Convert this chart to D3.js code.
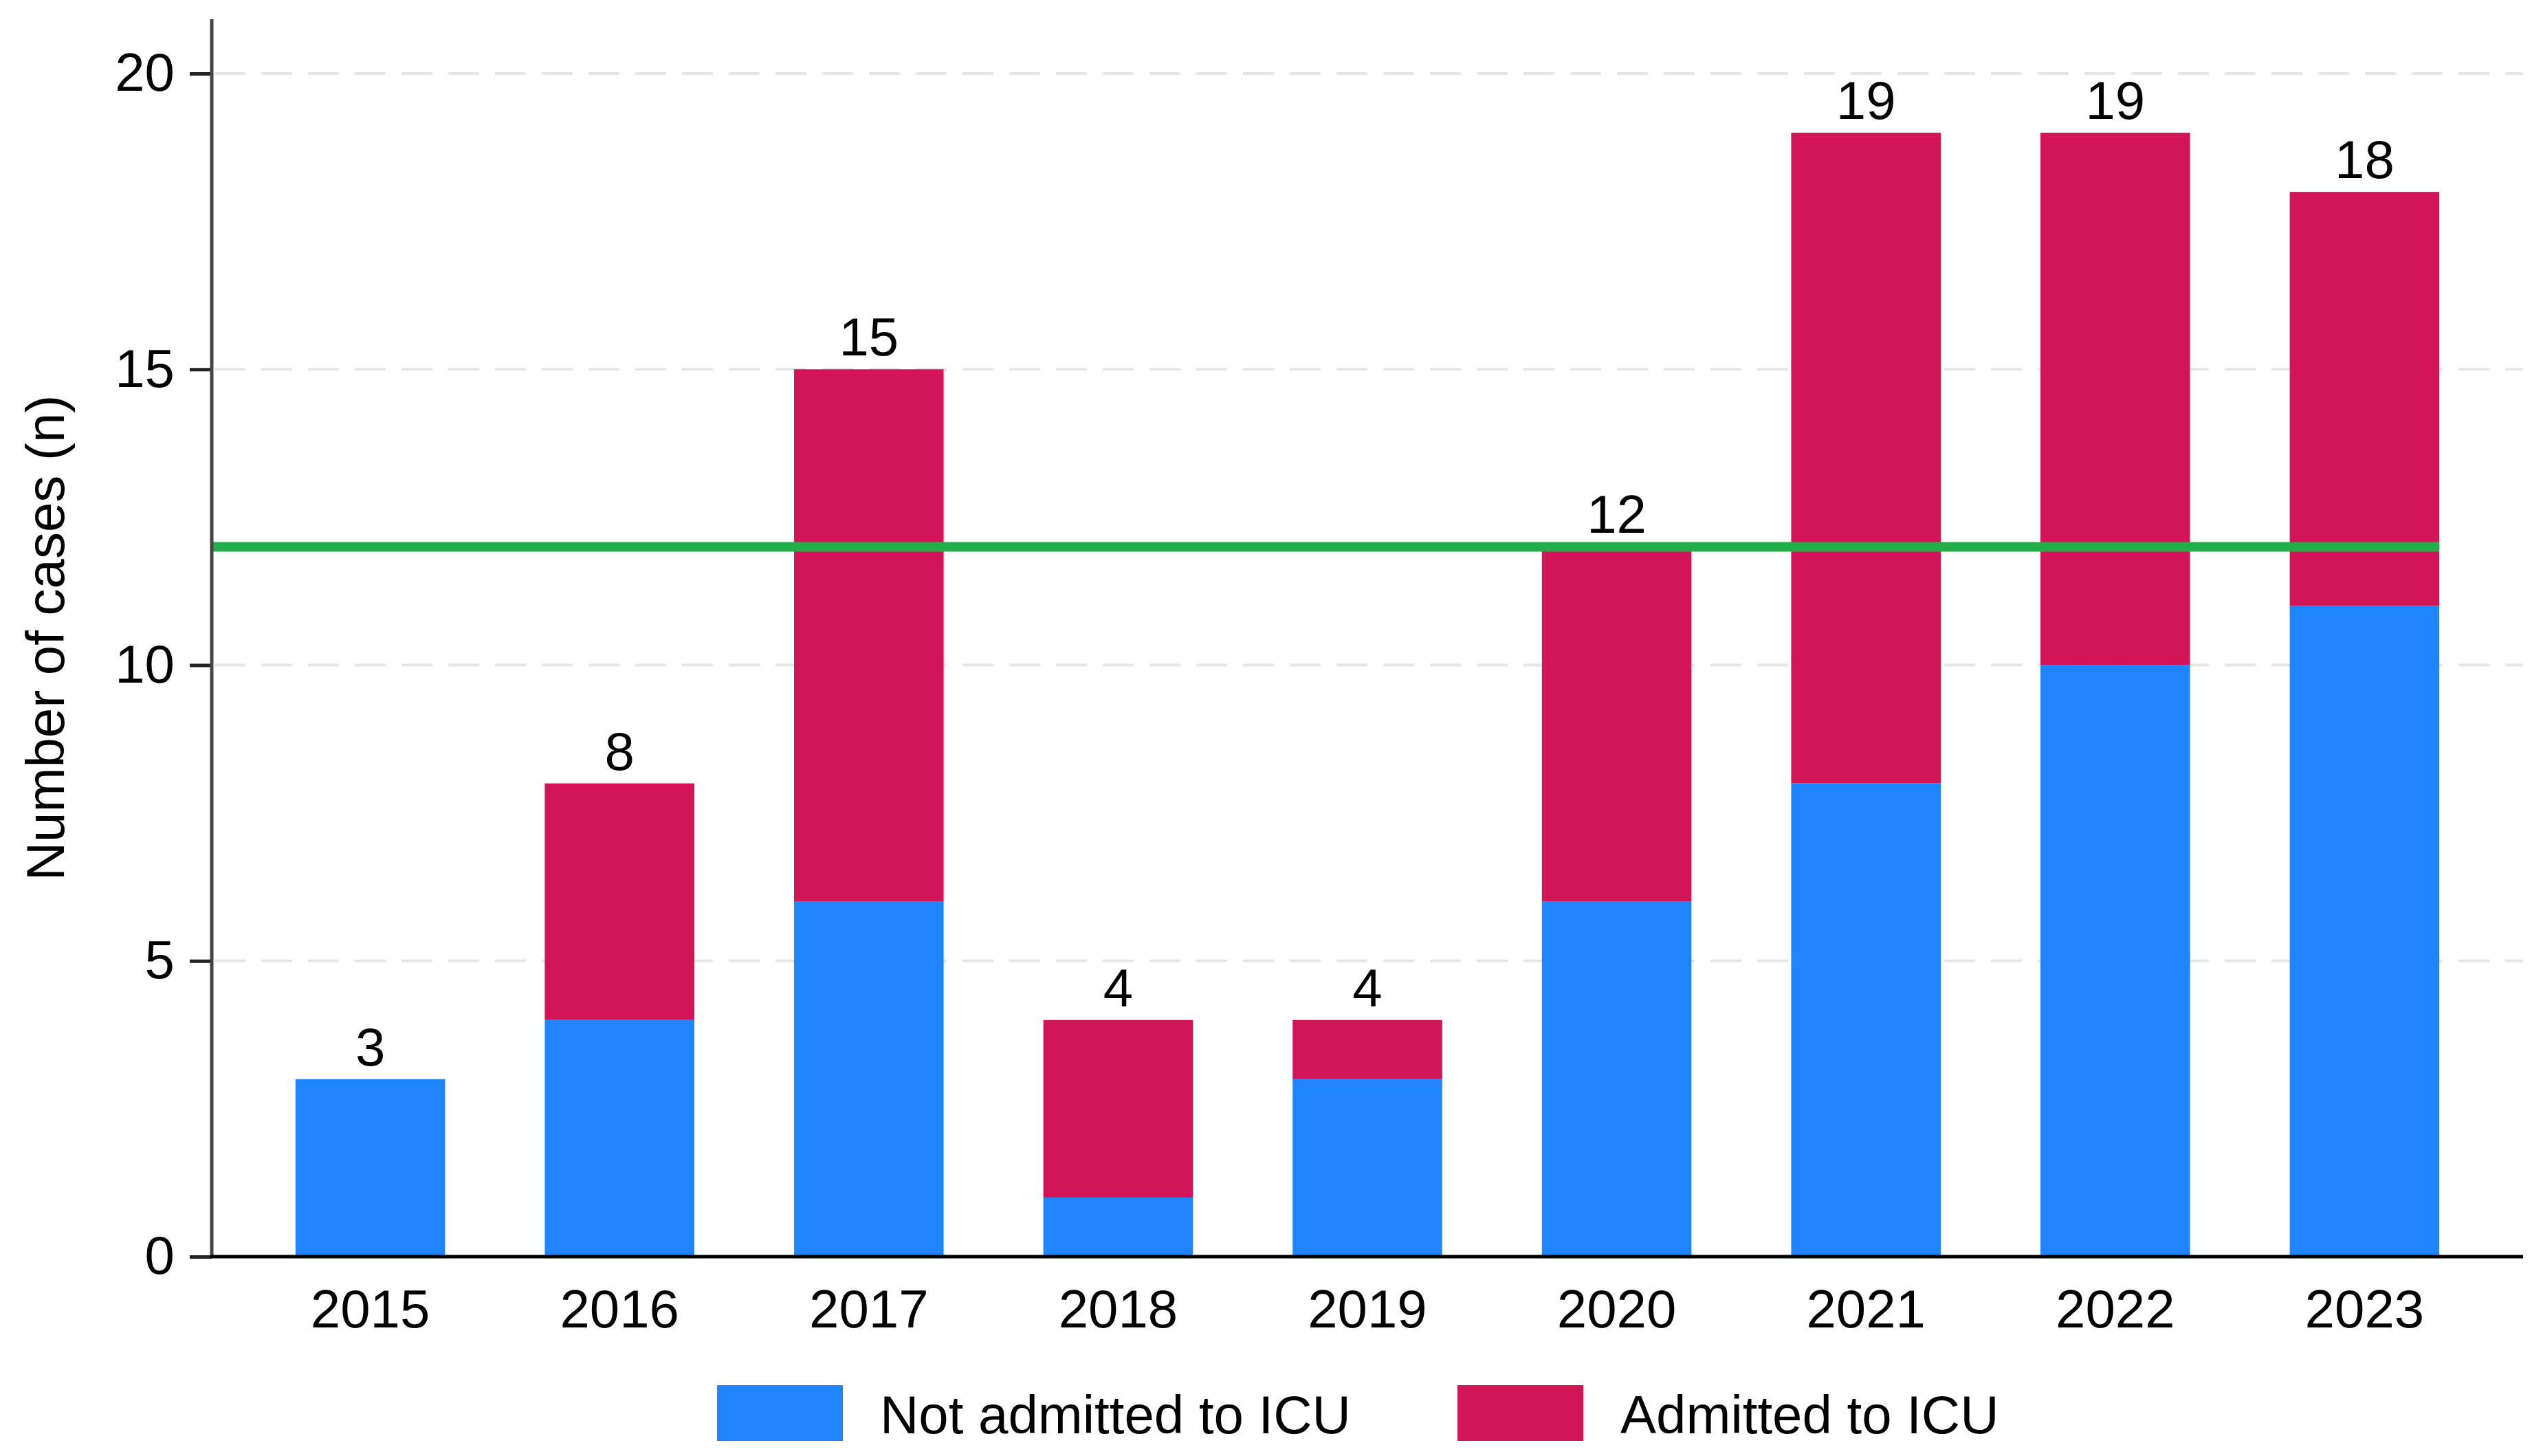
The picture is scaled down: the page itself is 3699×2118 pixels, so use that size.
<!DOCTYPE html>
<html>
<head>
<meta charset="utf-8">
<script src="https://cdn.jsdelivr.net/npm/d3@7"></script>
<style>
	body { margin: 0; background: white; }
	text { font-family: "Liberation Sans", Arial, sans-serif; fill: #000; }
</style>
</head>
<body>
<div id="chart"></div>
<script>
// Chart data
const years = ["2015", "2016", "2017", "2018", "2019", "2020", "2021", "2022", "2023"];
const notAdmitted = [3, 4, 6, 1, 3, 6, 8, 10, 11];
const admitted = [0, 4, 9, 3, 1, 6, 11, 9, 7];
const yTicks = [0, 5, 10, 15, 20];
const referenceLevel = 12;
const seriesNames = ["Not admitted to ICU", "Admitted to ICU"];
const seriesColors = ["#1e85ff", "#d41458"];

const W = 3699, H = 2118;
const fontSize = 78;

const svg = d3.select("#chart")
	.append("svg")
	.attr("width", W)
	.attr("height", H);

// Plot area bounds
const plotLeft = 308, plotRight = 3670, plotBottom = 1828, plotTop = 107, axisTop = 28;

const x = d3.scaleBand()
	.domain(years)
	.range([plotLeft, plotRight])
	.paddingInner(0.4)
	.paddingOuter(0.336);

const y = d3.scaleLinear()
	.domain([0, 20])
	.range([plotBottom, plotTop]);

// Dashed gridlines
svg.append("g")
	.selectAll("line")
	.data(yTicks.filter(d => d > 0))
	.enter()
	.append("line")
	.attr("x1", plotLeft + 4)
	.attr("x2", plotRight)
	.attr("y1", d => y(d))
	.attr("y2", d => y(d))
	.attr("stroke", "#e6e6e6")
	.attr("stroke-width", 4)
	.attr("stroke-dasharray", "45,23");

// Stack the two series
const rows = years.map((yr, i) => ({ year: yr, notAdmitted: notAdmitted[i], admitted: admitted[i] }));
const stack = d3.stack().keys(["notAdmitted", "admitted"]);
const layers = stack(rows);

svg.append("g")
	.selectAll("g")
	.data(layers)
	.enter()
	.append("g")
	.attr("fill", (d, i) => seriesColors[i])
	.selectAll("rect")
	.data(d => d)
	.enter()
	.append("rect")
	.attr("x", d => x(d.data.year))
	.attr("width", x.bandwidth())
	.attr("y", d => y(d[1]))
	.attr("height", d => y(d[0]) - y(d[1]));

// Reference line at 12
svg.append("line")
	.attr("x1", plotLeft)
	.attr("x2", x(years[years.length - 1]) + x.bandwidth())
	.attr("y1", y(referenceLevel))
	.attr("y2", y(referenceLevel))
	.attr("stroke", "#22ae4a")
	.attr("stroke-width", 14);

// Total labels above bars
svg.append("g")
	.selectAll("text")
	.data(rows)
	.enter()
	.append("text")
	.attr("x", d => x(d.year) + x.bandwidth() / 2)
	.attr("y", d => y(d.notAdmitted + d.admitted) - 20)
	.attr("text-anchor", "middle")
	.style("font-size", fontSize + "px")
	.text(d => d.notAdmitted + d.admitted);

// Y axis
const yAxis = d3.axisLeft(y)
	.tickValues(yTicks)
	.tickSize(32)
	.tickPadding(22);

const yAxisGroup = svg.append("g")
	.attr("transform", `translate(${plotLeft},0)`)
	.call(yAxis);
yAxisGroup.select(".domain").remove();
yAxisGroup.selectAll(".tick line").attr("stroke", "#222").attr("stroke-width", 5);
yAxisGroup.selectAll(".tick text")
	.style("font-size", fontSize + "px")
	.style("font-family", '"Liberation Sans", Arial, sans-serif')
	.attr("fill", "#000");

svg.append("line")
	.attr("x1", plotLeft)
	.attr("x2", plotLeft)
	.attr("y1", axisTop)
	.attr("y2", plotBottom)
	.attr("stroke", "#444")
	.attr("stroke-width", 5);

// X axis
const xAxis = d3.axisBottom(x)
	.tickSize(0)
	.tickPadding(48);

const xAxisGroup = svg.append("g")
	.attr("transform", `translate(0,${plotBottom})`)
	.call(xAxis);
xAxisGroup.select(".domain").remove();
xAxisGroup.selectAll(".tick text")
	.style("font-size", fontSize + "px")
	.style("font-family", '"Liberation Sans", Arial, sans-serif')
	.attr("fill", "#000");

svg.append("line")
	.attr("x1", plotLeft - 2)
	.attr("x2", plotRight)
	.attr("y1", plotBottom)
	.attr("y2", plotBottom)
	.attr("stroke", "#000")
	.attr("stroke-width", 5);

// Y axis title
svg.append("text")
	.attr("transform", `translate(93,${(axisTop + plotBottom) / 2}) rotate(-90)`)
	.attr("text-anchor", "middle")
	.style("font-size", fontSize + "px")
	.text("Number of cases (n)");

// Legend
const legendX = [1043, 2120];
const legend = svg.append("g")
	.selectAll("g")
	.data(seriesNames)
	.enter()
	.append("g")
	.attr("transform", (d, i) => `translate(${legendX[i]},2015)`);

legend.append("rect")
	.attr("width", 183)
	.attr("height", 81)
	.attr("fill", (d, i) => seriesColors[i]);

legend.append("text")
	.attr("x", 237)
	.attr("y", 70)
	.style("font-size", fontSize + "px")
	.text(d => d);
</script>
</body>
</html>
